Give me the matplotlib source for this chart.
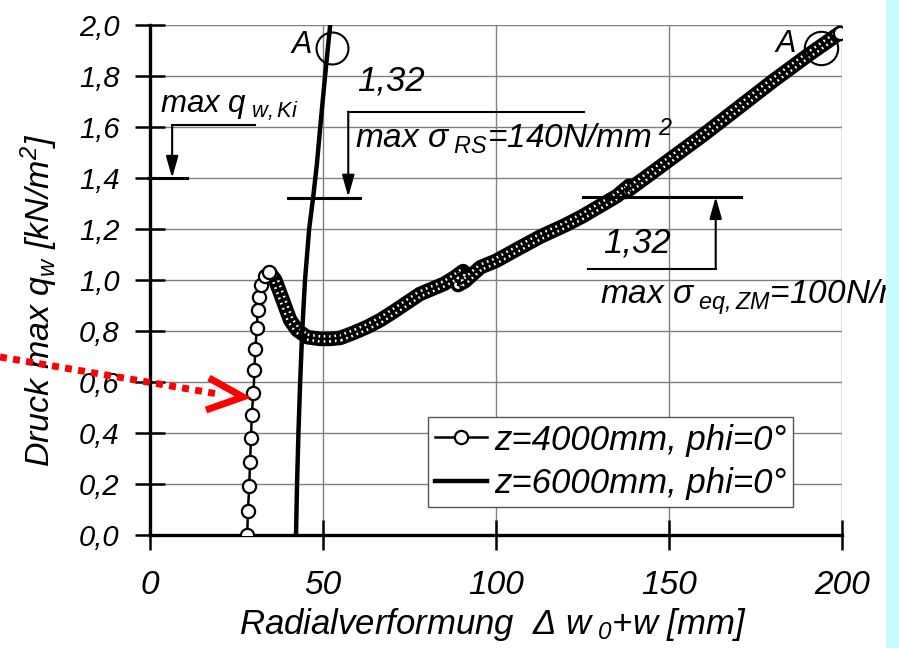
import numpy as np
import matplotlib
matplotlib.use("Agg")
import matplotlib.pyplot as plt
from matplotlib.lines import Line2D
from matplotlib.patches import Rectangle

plt.rcParams["font.family"] = ["Liberation Sans", "DejaVu Sans"]
plt.rcParams["font.style"] = "italic"
plt.rcParams["mathtext.fontset"] = "custom"
plt.rcParams["mathtext.rm"] = "Liberation Sans:italic"
plt.rcParams["mathtext.it"] = "Liberation Sans:italic"
plt.rcParams["mathtext.bf"] = "Liberation Sans:italic:bold"
plt.rcParams["mathtext.sf"] = "Liberation Sans:italic"

# z = 4000 mm, phi = 0 (first 15 points drawn as single circles, rest is a dense band)
defl_4000 = [28.1, 28.3, 28.7, 28.9, 29.2, 29.4, 29.9, 30.2, 30.4, 30.9, 31.1, 31.4, 32.1, 33.2, 34.5,
             36.2, 37.6, 39.1, 40.5, 42.5, 45.4, 49.2, 52.1, 55.0, 58.7, 62.8, 66.6, 70.3, 78.0,
             85.0, 88.0, 90.5, 89.0, 91.0, 95.5, 100.0, 106.0, 112.8, 120.0, 125.0, 130.0, 135.0,
             138.5, 137.5, 141.0, 145.0, 150.0, 160.0, 170.0, 180.0, 190.0, 199.5]
q_4000 = [0.0, 0.095, 0.193, 0.285, 0.379, 0.471, 0.558, 0.647, 0.728, 0.810, 0.882, 0.935, 0.98, 1.015, 1.03,
          1.0, 0.949, 0.894, 0.843, 0.804, 0.776, 0.769, 0.769, 0.773, 0.792, 0.816, 0.843, 0.875, 0.945,
          0.985, 1.01, 1.035, 0.98, 0.995, 1.05, 1.075, 1.12, 1.17, 1.215, 1.25, 1.29, 1.33,
          1.37, 1.345, 1.38, 1.42, 1.47, 1.57, 1.675, 1.78, 1.88, 1.97]
n_single = 15

# z = 6000 mm, phi = 0
defl_6000 = [42.2, 42.5, 42.9, 43.4, 44.0, 44.8, 46.0, 47.2, 48.2, 49.2, 50.6, 52.3]
q_6000 = [0.0, 0.2, 0.4, 0.6, 0.8, 1.0, 1.2, 1.33, 1.45, 1.6, 1.8, 2.03]

labels = ["z=4000mm, phi=0°", "z=6000mm, phi=0°"]
xticks = [0, 50, 100, 150, 200]
yticks = [0.0, 0.2, 0.4, 0.6, 0.8, 1.0, 1.2, 1.4, 1.6, 1.8, 2.0]
ytick_labels = ["0,0", "0,2", "0,4", "0,6", "0,8", "1,0", "1,2", "1,4", "1,6", "1,8", "2,0"]

W, H = 899, 648
fig = plt.figure(figsize=(W / 100, H / 100), dpi=100)
ax = fig.add_axes([150 / W, 1 - 535 / H, 692 / W, 510 / H])


def px(x, y):
    return x / W, 1 - y / H


# curves
mk = list(range(n_single)) + [len(defl_4000) - 1]
l1, = ax.plot(defl_4000, q_4000, color="k", lw=1.8, marker="o", ms=9.5, mfc="white",
              mec="k", mew=1.6, markevery=mk, zorder=3, label=labels[0])
ax.plot(defl_4000[n_single - 1:], q_4000[n_single - 1:], color="k", lw=10.5,
        solid_capstyle="round", solid_joinstyle="round", zorder=2.5)
ax.plot(defl_4000[n_single - 1:], q_4000[n_single - 1:], color="white", lw=5.5,
        linestyle=(0, (0.22, 0.5)), dash_capstyle="butt", zorder=2.6)
l2, = ax.plot(defl_6000, q_6000, color="k", lw=3.2, zorder=4, label=labels[1])

ax.set_xlim(0, 200)
ax.set_ylim(0, 2.0)
ax.set_xticks(xticks)
ax.set_xticklabels([str(v) for v in xticks], fontsize=24)
ax.set_yticks(yticks)
ax.set_yticklabels(ytick_labels, fontsize=21)
ax.tick_params(axis="both", direction="inout", length=22, width=1.8, color="k")
ax.tick_params(axis="y", pad=11)
ax.tick_params(axis="x", pad=14)
ax.grid(True, color="#808080", lw=1.0)
ax.set_axisbelow(True)
for s in ["top", "right"]:
    ax.spines[s].set_visible(False)
for s in ["left", "bottom"]:
    ax.spines[s].set_linewidth(2.4)

ax.set_xlabel(r"Radialverformung  $\Delta\ w_{\ 0}$+w [mm]", fontsize=25)
ax.xaxis.set_label_coords(0.496, -0.14)
ax.set_ylabel(r"Druck max $q_w$ [kN/m$^2$]", fontsize=24.5)
ax.yaxis.set_label_coords(-0.13, 0.46)

# "A" markers
ax.text(43.7, 1.92, "A", fontsize=22, ha="center", va="center")
ax.plot([52.7], [1.91], marker="o", ms=23, mfc="none", mec="k", mew=1.5, zorder=5)
ax.text(183.7, 1.925, "A", fontsize=22, ha="center", va="center")
ax.plot([193.9], [1.91], marker="o", ms=24, mfc="none", mec="k", mew=1.5, zorder=5)

arrow = dict(arrowstyle="-|>,head_length=0.6,head_width=0.17", color="k", lw=1.5,
             mutation_scale=22, shrinkA=0, shrinkB=0)

# max q_w,Ki
ax.text(2.9, 1.655, r"max q$_{\ w,Ki}$", fontsize=22.5, va="baseline")
ax.plot([6.4, 30.4], [1.608, 1.608], color="k", lw=1.5)
ax.annotate("", xy=(6.4, 1.40), xytext=(6.4, 1.608), arrowprops=arrow)
ax.plot([-0.6, 10.7], [1.40, 1.40], color="k", lw=2.2, clip_on=False, zorder=5)

# 1,32 left
ax.text(69.7, 1.78, "1,32", fontsize=25, ha="center", va="center")
ax.plot([57.3, 125.3], [1.66, 1.66], color="k", lw=1.5)
ax.annotate("", xy=(57.3, 1.326), xytext=(57.3, 1.66), arrowprops=arrow)
ax.plot([39.9, 60.8], [1.322, 1.322], color="k", lw=2.2, zorder=5)
ax.text(59.3, 1.52, r"max $\sigma_{\ RS}$=140N/mm$^{\ 2}$", fontsize=24, va="baseline")

# 1,32 right
ax.plot([125.0, 170.7], [1.326, 1.326], color="k", lw=2.2, zorder=5)
ax.plot([126.7, 163.5], [1.043, 1.043], color="k", lw=1.5)
ax.annotate("", xy=(163.5, 1.326), xytext=(163.5, 1.043), arrowprops=arrow)
ax.text(140.6, 1.145, "1,32", fontsize=25, ha="center", va="center")
ax.text(130.2, 0.902, r"max $\sigma_{\ eq,ZM}$=100N/mm$^2$", fontsize=24, va="baseline",
        clip_on=False)

leg = ax.legend(handles=[l1, l2], loc="lower left", bbox_to_anchor=(0.402, 0.055),
                borderaxespad=0, fontsize=25, numpoints=1, handlelength=1.5,
                handletextpad=0.2, labelspacing=0.3, borderpad=0.2, fancybox=False,
                framealpha=1, edgecolor="#555555")
leg.get_frame().set_linewidth(1.0)
leg.set_zorder(6)

# red dotted pointer
x0, y0 = px(0, 357)
x1, y1 = px(218, 394)
fig.add_artist(Line2D([x0, x1], [y0, y1], transform=fig.transFigure, color="#ff0000",
                      lw=5, linestyle=(0, (1.0, 0.9)), dash_capstyle="butt", zorder=8))
hx, hy = zip(px(209, 378), px(243, 397), px(206, 410))
fig.add_artist(Line2D(hx, hy, transform=fig.transFigure, color="#ff0000", lw=5,
                      solid_joinstyle="miter", solid_capstyle="butt", zorder=8))

# cyan strip at right border
fig.add_artist(Rectangle((886 / W, 0), 13 / W, 1, transform=fig.transFigure,
                         color="#c8fcfe", zorder=10))

fig.savefig("out.png", dpi=100)
